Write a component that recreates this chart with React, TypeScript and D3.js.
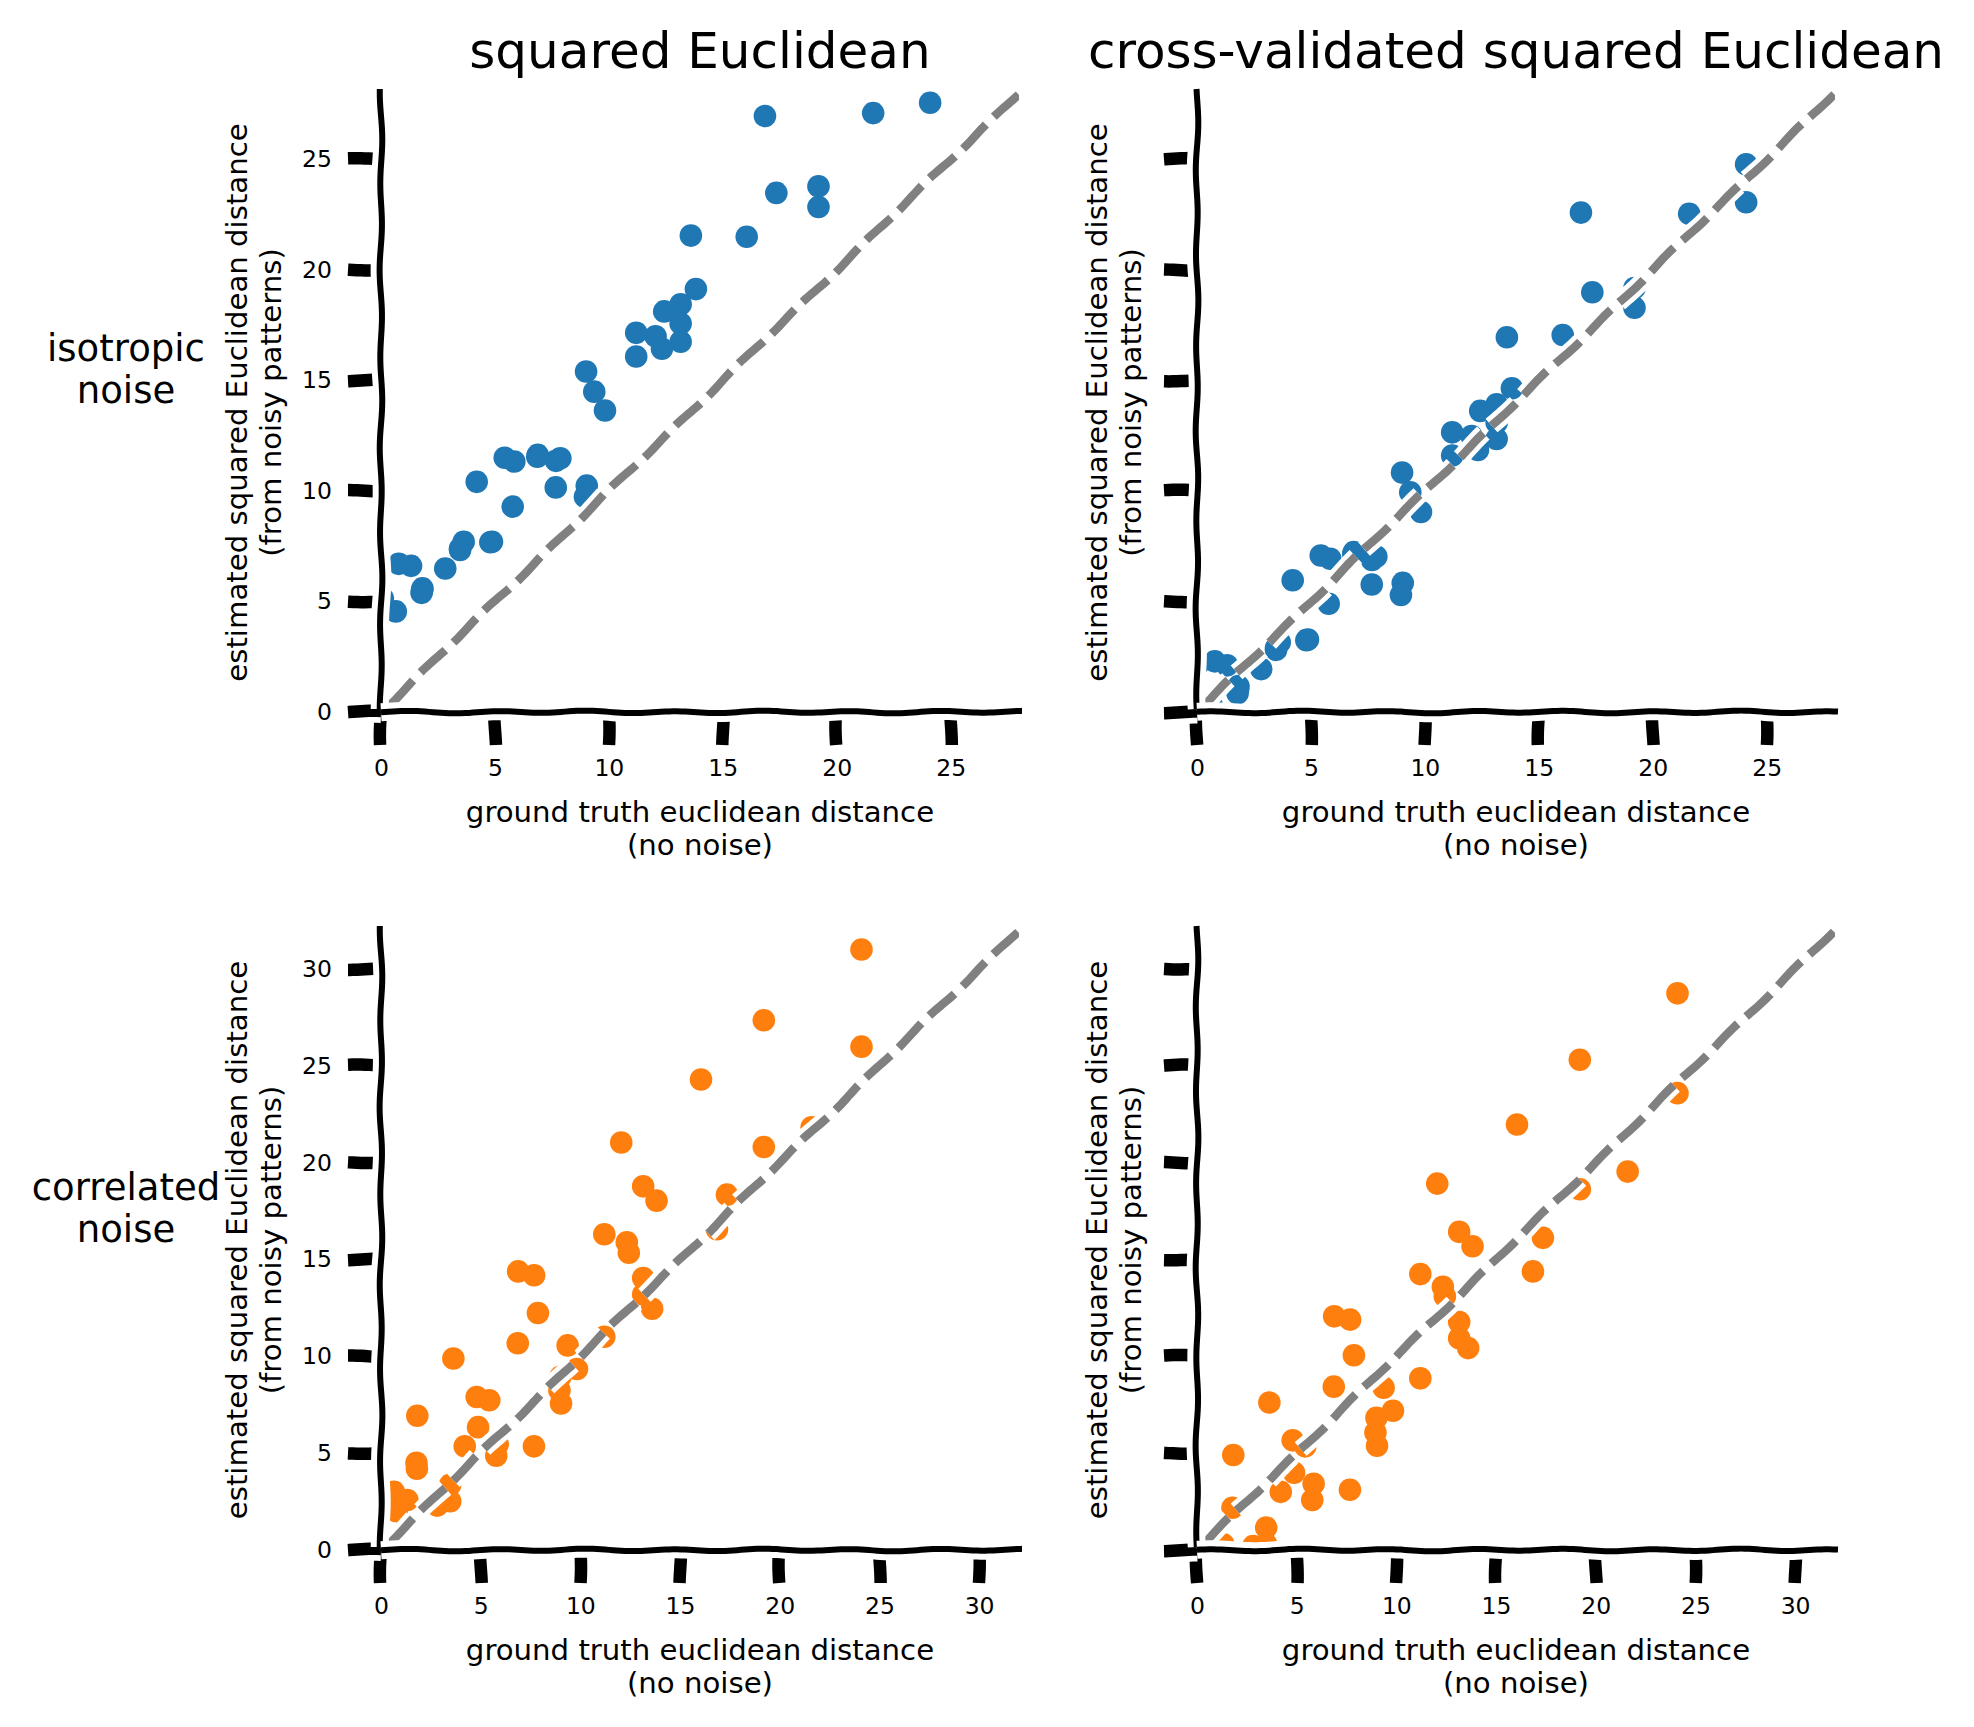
import * as d3 from 'd3';
import React, { useEffect, useRef } from 'react';

// ground truth distance shared by all four panels
const groundTruth = [
  24.1, 24.1, 21.6, 19.2, 19.2, 17.35, 16.85, 16.05, 13.82, 13.6, 13.15, 13.15, 13.15, 12.43, 12.33,
  12.05, 11.2, 11.2, 9.83, 9.36, 9.03, 9.0, 8.95, 7.87, 7.68, 7.67, 6.88, 6.86, 5.85, 5.78,
  5.43, 4.87, 4.8, 4.2, 3.63, 3.47, 3.47, 2.82, 1.82, 1.78, 1.8, 1.32, 0.78, 0.65, 0.08,
];

const isoSquared = [
  27.56, 29.4, 27.09, 23.78, 22.84, 23.48, 26.96, 21.5, 19.13, 21.55, 18.44, 17.57, 16.75, 18.12, 16.43,
  17.0, 17.15, 16.08, 13.64, 14.49, 10.24, 15.4, 9.74, 11.48, 11.36, 10.16, 11.63, 11.55, 11.33, 9.29,
  11.5, 7.7, 7.68, 10.41, 7.7, 7.33, 7.4, 6.49, 5.59, 5.39, 5.5, 6.61, 6.7, 4.55, 5.14,
];
const isoCrossval = [
  24.78, 23.06, 22.54, 19.18, 18.29, 18.99, 22.59, 17.05, 14.64, 16.95, 13.92, 13.1, 12.35, 13.62, 11.85,
  12.48, 12.65, 11.6, 9.05, 9.94, 5.84, 10.83, 5.29, 7.03, 6.88, 5.77, 7.23, 7.15, 6.93, 4.9,
  7.08, 3.28, 3.25, 5.96, 3.16, 2.81, 2.9, 1.94, 1.17, 0.85, 1.0, 2.11, 2.29, 0.3, 2.2,
];
const corrSquared = [
  30.99, 25.98, 21.82, 27.34, 20.8, 18.34, 16.56, 24.28, 18.03, 12.45, 18.77, 14.04, 13.19, 15.34, 15.88,
  21.03, 16.3, 11.01, 9.34, 10.56, 7.56, 8.94, 8.24, 12.23, 14.18, 5.35, 14.38, 10.67, 5.46, 4.87,
  7.73, 6.34, 7.9, 5.35, 9.88, 3.37, 2.52, 2.29, 6.93, 4.5, 4.19, 2.58, 2.0, 3.0, 2.43,
];
const corrCrossval = [
  28.73, 23.58, 19.53, 25.3, 18.62, 16.11, 14.38, 21.96, 15.68, 10.42, 16.42, 11.77, 10.93, 13.1, 13.59,
  18.91, 14.24, 8.86, 7.19, 8.38, 5.38, 6.82, 6.06, 10.05, 11.89, 3.11, 12.06, 8.43, 3.42, 2.58,
  5.35, 3.99, 5.66, 3.0, 7.61, 1.16, 0.3, 0.2, 4.9, 2.18, -0.3, 0.3, -0.4, 0.15, 0.2,
];

const topTicks = [0, 5, 10, 15, 20, 25];
const bottomTicks = [0, 5, 10, 15, 20, 25, 30];
const topLimit = 28;
const bottomLimit = 32;

const columnTitles = ['squared Euclidean', 'cross-validated squared Euclidean'];
const rowTitles = [['isotropic', 'noise'], ['correlated', 'noise']];
const xLabelLines = ['ground truth euclidean distance', '(no noise)'];
const yLabelLines = ['estimated squared Euclidean distance', '(from noisy patterns)'];

const blue = '#1f77b4';
const orange = '#ff7f0e';
const font = '"DejaVu Sans", sans-serif';

const width = 1974;
const height = 1727;
const columnLeft = [381, 1197];
const rowTop = [93, 930];
const rowHeight = [619, 620];
const plotWidth = 638;

// hand-drawn wobble, the same idea as matplotlib's xkcd sketch filter
function wobble(x0: number, y0: number, x1: number, y1: number, phase: number, amp = 1) {
  const length = Math.hypot(x1 - x0, y1 - y0);
  const nx = -(y1 - y0) / length;
  const ny = (x1 - x0) / length;
  const steps = d3.range(0, Math.ceil(length / 4) + 1).map(i => Math.min(i * 4, length));
  const points = steps.map(s => {
    const off = amp * (Math.sin((2 * Math.PI * s) / 88 + phase) * 0.85 + Math.sin((2 * Math.PI * s) / 207 + phase * 2) * 0.3);
    return [x0 + ((x1 - x0) * s) / length + nx * off, y0 + ((y1 - y0) * s) / length + ny * off] as [number, number];
  });
  return d3.line()(points) as string;
}

function strokeWithHalo(
  g: d3.Selection<SVGGElement, unknown, null, undefined>,
  d: string,
  color: string,
  strokeWidth: number,
  haloWidth: number,
  dash?: string,
  dashOffset?: number,
) {
  [['white', haloWidth], [color, strokeWidth]].forEach(([stroke, w]) => {
    g.append('path')
      .attr('d', d)
      .attr('fill', 'none')
      .attr('stroke', stroke as string)
      .attr('stroke-width', w as number)
      .attr('stroke-dasharray', dash ?? null)
      .attr('stroke-dashoffset', dashOffset ?? null);
  });
}

function drawPanel(
  svg: d3.Selection<SVGSVGElement, unknown, null, undefined>,
  col: number,
  row: number,
  values: number[],
  color: string,
) {
  const limit = row === 0 ? topLimit : bottomLimit;
  const ticks = row === 0 ? topTicks : bottomTicks;
  const left = columnLeft[col];
  const top = rowTop[row];
  const right = left + plotWidth;
  const bottom = top + rowHeight[row];

  const x = d3.scaleLinear().domain([0, limit]).range([left, right]);
  const y = d3.scaleLinear().domain([0, limit]).range([bottom, top]);

  const clipId = `clip-${col}-${row}`;
  svg.append('clipPath').attr('id', clipId)
    .append('rect').attr('x', left).attr('y', top - 3).attr('width', plotWidth).attr('height', bottom - top + 3);

  const g = svg.append('g');

  // scatter
  g.append('g')
    .attr('clip-path', `url(#${clipId})`)
    .selectAll('circle')
    .data(values)
    .join('circle')
    .attr('cx', (_, i) => x(groundTruth[i]))
    .attr('cy', d => y(d))
    .attr('r', 11.3)
    .attr('fill', color);

  // identity line
  const diag = g.append('g').attr('clip-path', `url(#${clipId})`);
  strokeWithHalo(diag, wobble(x(0), y(0), x(limit), y(limit), 0.6 + col, 1.1), 'gray', 8.5, 18, '33.3 11.1', 32.7);

  // tick marks
  ticks.forEach((t, i) => {
    strokeWithHalo(g, wobble(x(t), bottom, x(t), bottom + 33, i * 1.7 + col, 1.1), 'black', 12.5, 24);
    strokeWithHalo(g, wobble(left, y(t), left - 33, y(t), i * 2.3 + col + 1, 1.1), 'black', 12.5, 24);
  });

  // tick labels
  const axisX = d3.axisBottom(x).tickValues(ticks).tickSize(0).tickPadding(47);
  const axisY = d3.axisLeft(y).tickValues(ticks).tickSize(0).tickPadding(49)
    .tickFormat(col === 0 ? (d => String(d)) : () => '');
  [
    g.append('g').attr('transform', 'translate(0,' + bottom + ')').call(axisX),
    g.append('g').attr('transform', 'translate(' + left + ',0)').call(axisY),
  ].forEach(a => {
    a.select('.domain').remove();
    a.selectAll('text').attr('font-family', font).attr('font-size', 23.5).attr('fill', 'black');
  });

  // spines
  strokeWithHalo(g, wobble(left, top - 4, left, bottom - 3, 1.2 + col, 1.2), 'black', 6, 18);
  strokeWithHalo(g, wobble(left, bottom, right + 3, bottom, 2.6 + col, 1.2), 'black', 6, 18);

  // axis labels
  xLabelLines.forEach((line, i) => {
    g.append('text')
      .attr('x', (left + right) / 2)
      .attr('y', bottom + 110 + i * 33)
      .attr('text-anchor', 'middle')
      .attr('font-family', font)
      .attr('font-size', 29.2)
      .text(line);
  });
  yLabelLines.forEach((line, i) => {
    // the right column has no tick labels, so its label sits closer to the axis
    const labelX = left - (col === 0 ? 134 : 90) + i * 33.5;
    g.append('text')
      .attr('transform', `translate(${labelX},${(top + bottom) / 2}) rotate(-90)`)
      .attr('text-anchor', 'middle')
      .attr('font-family', font)
      .attr('font-size', 29.2)
      .text(line);
  });
}

export default function App() {
  const svgRef = useRef<SVGSVGElement | null>(null);

  useEffect(() => {
    const svg = d3.select(svgRef.current as SVGSVGElement);
    svg.selectAll('*').remove();

    drawPanel(svg, 0, 0, isoSquared, blue);
    drawPanel(svg, 1, 0, isoCrossval, blue);
    drawPanel(svg, 0, 1, corrSquared, orange);
    drawPanel(svg, 1, 1, corrCrossval, orange);

    columnTitles.forEach((title, i) => {
      svg.append('text')
        .attr('x', columnLeft[i] + plotWidth / 2)
        .attr('y', 68)
        .attr('text-anchor', 'middle')
        .attr('font-family', font)
        .attr('font-size', 50)
        .text(title);
    });
    rowTitles.forEach((lines, r) => {
      lines.forEach((line, i) => {
        svg.append('text')
          .attr('x', 126)
          .attr('y', [361, 1200][r] + i * 42)
          .attr('text-anchor', 'middle')
          .attr('font-family', font)
          .attr('font-size', 37)
          .text(line);
      });
    });
  }, []);

  return (
    <svg
      ref={svgRef}
      width={width}
      height={height}
      viewBox={`0 0 ${width} ${height}`}
      style={{ position: 'absolute', left: 0, top: 0, background: 'white' }}
    />
  );
}
